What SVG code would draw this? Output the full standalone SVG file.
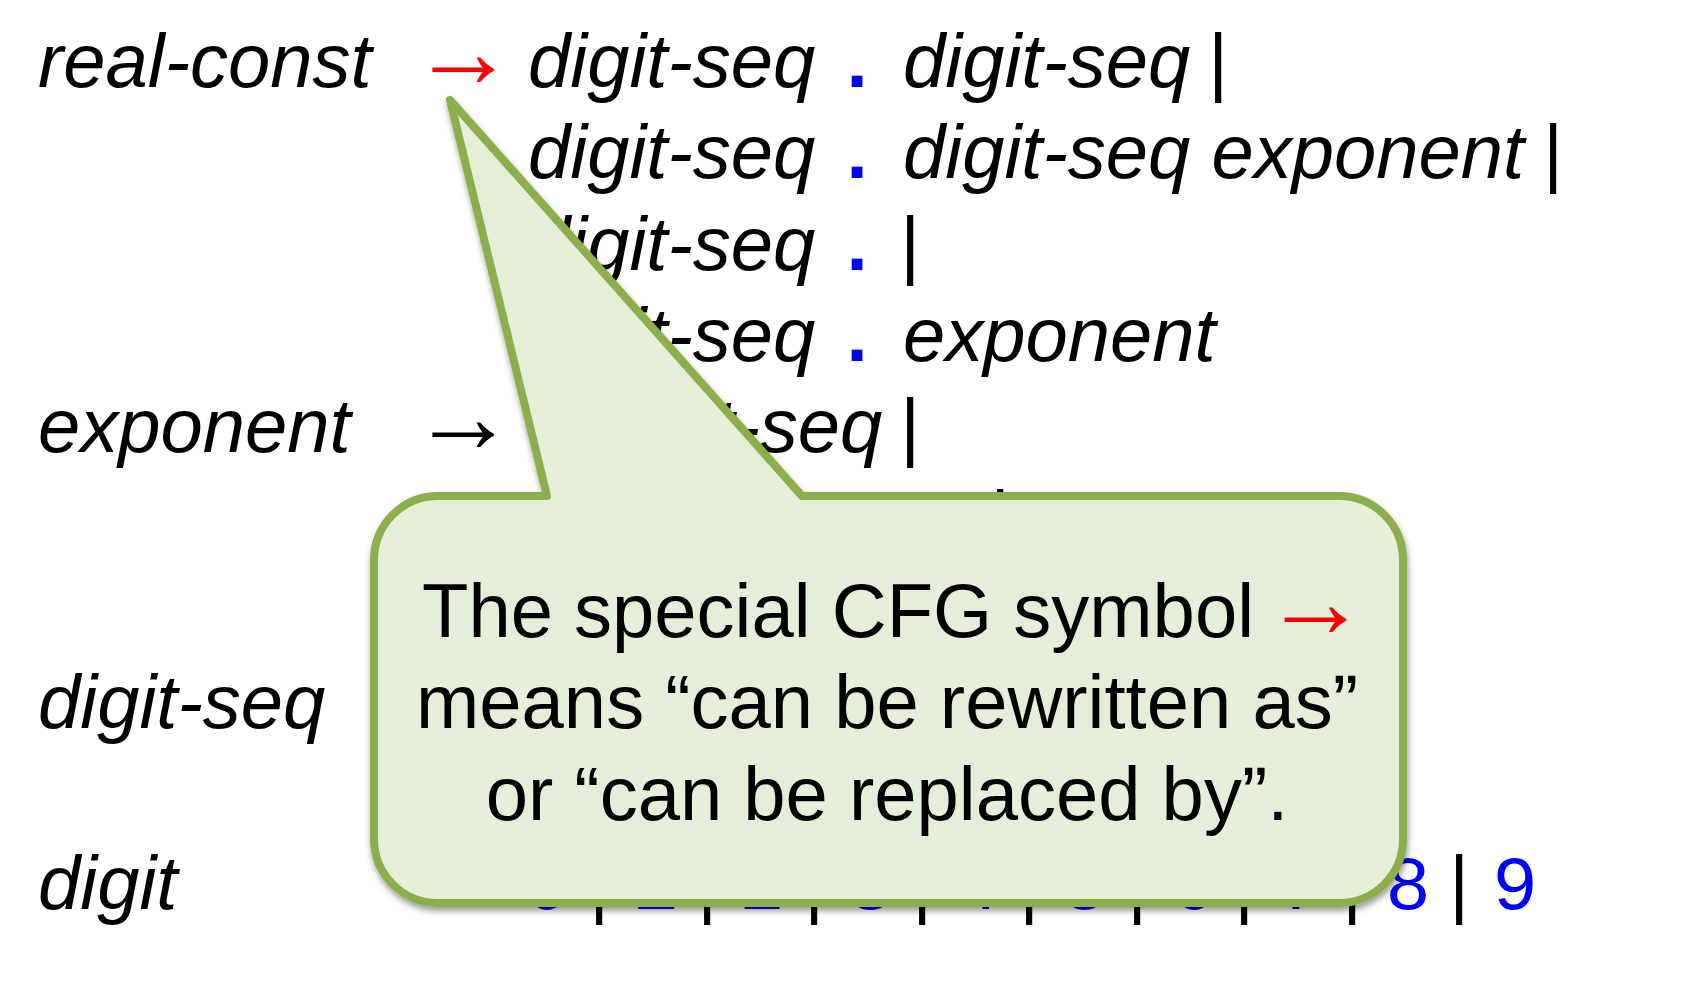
<svg xmlns="http://www.w3.org/2000/svg" width="1690" height="986" viewBox="0 0 1690 986">
  <defs>
    <style>
      text { font-size: 76px; fill: #000; }
      .it { font-family: "Liberation Sans", Arial, sans-serif; font-style: italic; }
      .bar { font-family: "Liberation Sans", Arial, sans-serif; text-anchor: middle; }
      .arr { font-family: "Liberation Serif", "Times New Roman", serif; font-size: 104px; }
      .red { fill: #FF0000; }
      .mono { font-family: "Liberation Mono", "Courier New", monospace; fill: #0000FF; }
      .dot { font-family: "Liberation Mono", "Courier New", monospace; font-weight: bold; fill: #0000FF; text-anchor: middle; }
      .dig { font-family: "Liberation Mono", "Courier New", monospace; fill: #0000FF; text-anchor: middle; }
      .callout { fill: #E4EED9; stroke: #8BB04B; stroke-width: 8; stroke-linejoin: round; }
      .ctext { font-family: "Liberation Sans", Arial, sans-serif; text-anchor: middle; }
      .cstart { font-family: "Liberation Sans", Arial, sans-serif; text-anchor: start; }
    </style>
    <filter id="shadow" x="-10%" y="-10%" width="120%" height="120%">
      <feDropShadow dx="1" dy="4" stdDeviation="3" flood-color="#000" flood-opacity="0.4"/>
    </filter>
  </defs>

  <g id="rule-real-const">
    <text class="it" x="38" y="87">real-const</text>
    <text class="arr red" x="411" y="87">→</text>
    <text class="it" x="528" y="87">digit-seq</text>
    <text class="dot" x="857" y="87">.</text>
    <text class="it" x="903" y="87">digit-seq</text>
    <text class="bar" x="1218" y="87">|</text>

    <text class="it" x="528" y="178">digit-seq</text>
    <text class="dot" x="857" y="178">.</text>
    <text class="it" x="903" y="178">digit-seq exponent</text>
    <text class="bar" x="1553" y="178">|</text>

    <text class="it" x="528" y="270">digit-seq</text>
    <text class="dot" x="857" y="270">.</text>
    <text class="bar" x="910" y="270">|</text>

    <text class="it" x="528" y="361">digit-seq</text>
    <text class="dot" x="857" y="361">.</text>
    <text class="it" x="903" y="361">exponent</text>
  </g>

  <g id="rule-exponent">
    <text class="it" x="38" y="452">exponent</text>
    <text class="arr" x="411" y="452">→</text>
    <text class="mono" x="528" y="452">e</text>
    <text class="it" x="595" y="452">digit-seq</text>
    <text class="bar" x="910" y="452">|</text>

    <text class="mono" x="528" y="544">e</text>
    <text class="mono" x="596" y="544">+</text>
    <text class="it" x="682" y="544">digit-seq</text>
    <text class="bar" x="1000" y="544">|</text>
  </g>

  <g id="rule-digit-seq">
    <text class="it" x="38" y="728">digit-seq</text>
  </g>

  <g id="rule-digit">
    <text class="it" x="38" y="909">digit</text>
    <text class="arr" x="411" y="909">→</text>
    <text class="dig" x="547" y="909">0</text>
    <text class="bar" x="599" y="909">|</text>
    <text class="dig" x="655" y="909">1</text>
    <text class="bar" x="707" y="909">|</text>
    <text class="dig" x="762" y="909">2</text>
    <text class="bar" x="814" y="909">|</text>
    <text class="dig" x="870" y="909">3</text>
    <text class="bar" x="922" y="909">|</text>
    <text class="dig" x="977" y="909">4</text>
    <text class="bar" x="1029" y="909">|</text>
    <text class="dig" x="1085" y="909">5</text>
    <text class="bar" x="1137" y="909">|</text>
    <text class="dig" x="1193" y="909">6</text>
    <text class="bar" x="1244" y="909">|</text>
    <text class="dig" x="1300" y="909">7</text>
    <text class="bar" x="1352" y="909">|</text>
    <text class="dig" x="1408" y="909">8</text>
    <text class="bar" x="1459" y="909">|</text>
    <text class="dig" x="1515" y="909">9</text>
  </g>

  <g id="callout">
    <path class="callout" filter="url(#shadow)" d="M 438,496 L 547,496 L 450,100 L 802,496 L 1339,496 A 64 64 0 0 1 1403,560 L 1403,839 A 64 64 0 0 1 1339,903 L 438,903 A 64 64 0 0 1 374,839 L 374,560 A 64 64 0 0 1 438,496 Z"/>
    <text class="cstart" x="422" y="637">The special CFG symbol <tspan class="arr red" dx="-12">→</tspan></text>
    <text class="ctext" x="887" y="728">means “can be rewritten as”</text>
    <text class="ctext" x="887" y="820">or “can be replaced by”.</text>
  </g>
</svg>
